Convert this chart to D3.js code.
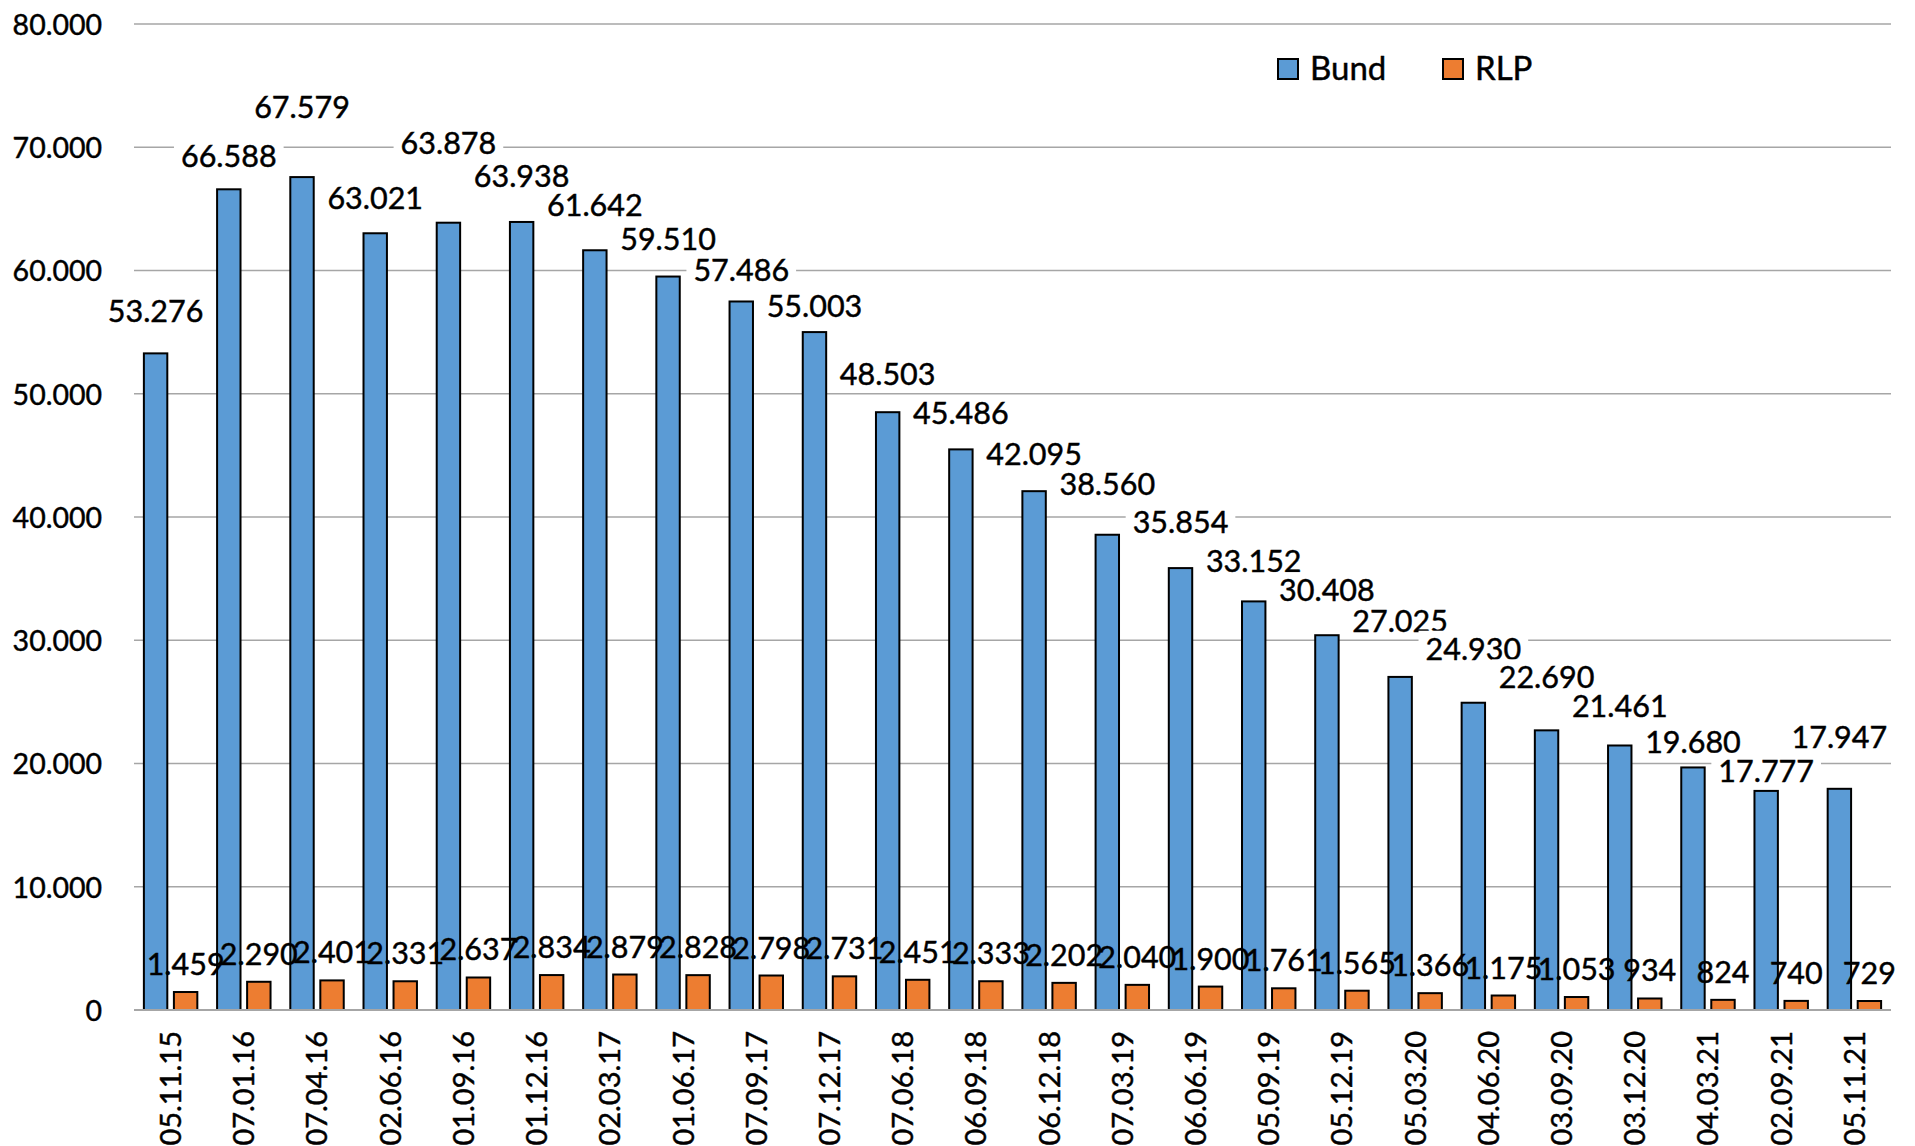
<!DOCTYPE html>
<html>
<head>
<meta charset="utf-8">
<script src="https://cdn.jsdelivr.net/npm/d3@7"></script>
<style>
  html, body { margin: 0; padding: 0; background: #fff; }
  svg { display: block; font-family: Lato, "Open Sans", sans-serif; }
  svg text { stroke: #000; stroke-width: 0.45px; }
</style>
</head>
<body>
<svg id="chart" width="1915" height="1146"></svg>
<script>
// ---- data ----
const categories = ["05.11.15","07.01.16","07.04.16","02.06.16","01.09.16","01.12.16","02.03.17","01.06.17","07.09.17","07.12.17","07.06.18","06.09.18","06.12.18","07.03.19","06.06.19","05.09.19","05.12.19","05.03.20","04.06.20","03.09.20","03.12.20","04.03.21","02.09.21","05.11.21"];
const seriesNames = ["Bund", "RLP"];
const bund = [53276,66588,67579,63021,63878,63938,61642,59510,57486,55003,48503,45486,42095,38560,35854,33152,30408,27025,24930,22690,21461,19680,17777,17947];
const rlp = [1459,2290,2401,2331,2637,2834,2879,2828,2798,2731,2451,2333,2202,2040,1900,1761,1565,1366,1175,1053,934,824,740,729];
const yTicks = [0,10000,20000,30000,40000,50000,60000,70000,80000];

// manual label lift (px above bar top) as placed in the original chart
const bundLabelLift = [31,22,59,24,69,35,34,27,20,15,27,25,26,40,35,29,34,45,43,42,28,14,9,41];
const rlpLabelLift = 17;

const colors = {Bund: "#5b9bd5", RLP: "#ed7d31"};

const svg = d3.select("#chart");
const plot = {left: 134, right: 1891, top: 24, bottom: 1010};

const fmt = d3.formatLocale({decimal: ",", thousands: ".", grouping: [3], currency: ["", "€"]}).format(",d");

const x = d3.scaleBand().domain(categories).range([plot.left, plot.right]).paddingInner(0.27).paddingOuter(0.135);
const xs = d3.scaleBand().domain(seriesNames).range([0, x.bandwidth()]).paddingInner(0.22);
const y = d3.scaleLinear().domain([0, 80000]).range([plot.bottom, plot.top]);

// gridlines
const grid = svg.append("g").attr("class", "grid");
grid.selectAll("line").data(yTicks).join("line")
  .attr("x1", plot.left).attr("x2", plot.right)
  .attr("y1", d => y(d)).attr("y2", d => y(d))
  .attr("stroke", "#a6a6a6").attr("stroke-width", 1.6);

// y axis labels
const yAxis = svg.append("g").attr("transform", `translate(102,0)`)
  .call(d3.axisLeft(y).tickValues(yTicks).tickFormat(fmt).tickSize(0).tickPadding(0));
yAxis.select(".domain").remove();
yAxis.selectAll("text").attr("font-size", 28.5).attr("font-family", "Lato").attr("fill", "#000").attr("dy", "0.36em");

// x axis labels
const xAxis = svg.append("g").attr("transform", `translate(0,${plot.bottom})`)
  .call(d3.axisBottom(x).tickSize(0).tickPadding(0));
xAxis.select(".domain").remove();
xAxis.selectAll("text")
  .attr("font-size", 29).attr("font-family", "Lato").attr("fill", "#000")
  .attr("transform", "translate(0,21) rotate(-90)")
  .attr("text-anchor", "end").attr("x", 0).attr("y", 0).attr("dy", "0.36em");

// bars
const rows = categories.map((c, i) => ({cat: c, i, Bund: bund[i], RLP: rlp[i]}));
const groups = svg.append("g").selectAll("g").data(rows).join("g")
  .attr("transform", d => `translate(${x(d.cat)},0)`);
groups.selectAll("rect").data(d => seriesNames.map(s => ({s, v: d[s]}))).join("rect")
  .attr("x", d => xs(d.s)).attr("width", xs.bandwidth())
  .attr("y", d => y(d.v)).attr("height", d => y(0) - y(d.v))
  .attr("fill", d => colors[d.s]).attr("stroke", "#000").attr("stroke-width", 2);

// baseline
svg.append("line").attr("x1", plot.left).attr("x2", plot.right)
  .attr("y1", y(0)).attr("y2", y(0)).attr("stroke", "#a6a6a6").attr("stroke-width", 2);

// RLP labels (no fill)
const lbl = svg.append("g");
rows.forEach(d => {
  lbl.append("text")
    .attr("x", x(d.cat) + xs("RLP") + xs.bandwidth() / 2)
    .attr("y", y(d.RLP) - rlpLabelLift)
    .attr("text-anchor", "middle").attr("font-size", 30.5).attr("fill", "#000")
    .text(fmt(d.RLP));
});

// Bund labels (white fill boxes)
rows.forEach(d => {
  const g = lbl.append("g");
  const r = g.append("rect").attr("fill", "#fff");
  const t = g.append("text")
    .attr("x", x(d.cat) + xs("Bund") + xs.bandwidth() / 2)
    .attr("y", y(d.Bund) - bundLabelLift[d.i])
    .attr("text-anchor", "middle").attr("font-size", 30.5).attr("fill", "#000")
    .text(fmt(d.Bund));
  const b = t.node().getBBox();
  r.attr("x", b.x - 7).attr("y", b.y + 1).attr("width", b.width + 14).attr("height", b.height - 2);
});

// legend
const legend = svg.append("g").attr("transform", "translate(1278,59)");
const lx = [0, 165];
seriesNames.forEach((s, i) => {
  const g = legend.append("g").attr("transform", `translate(${lx[i]},0)`);
  g.append("rect").attr("width", 20).attr("height", 20)
    .attr("fill", colors[s]).attr("stroke", "#000").attr("stroke-width", 2);
  g.append("text").attr("x", 32).attr("y", 21).attr("font-size", 33).attr("fill", "#000").text(s);
});
</script>
</body>
</html>
